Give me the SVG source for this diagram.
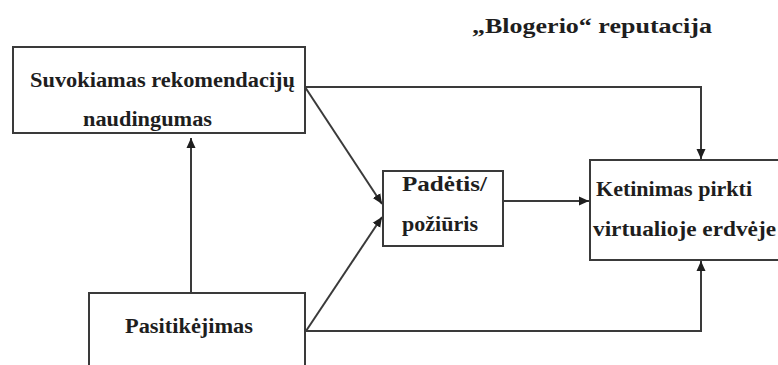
<svg xmlns="http://www.w3.org/2000/svg" width="778" height="365" viewBox="0 0 778 365">
  <style>
    .box { fill: #ffffff; stroke: #3a3a3a; stroke-width: 2; }
    .lbl { font-family: "Liberation Serif", "DejaVu Serif", serif; font-weight: bold; font-size: 20px; fill: #1e1e1e; }
    .edge { fill: none; stroke: #3a3a3a; stroke-width: 2; }
  </style>
  <defs>
    <marker id="arrow" viewBox="0 0 10 10" refX="10" refY="5" markerWidth="10" markerHeight="10" markerUnits="userSpaceOnUse" orient="auto">
      <path d="M0,0.5 L10,5 L0,9.5 z" fill="#1e1e1e"/>
    </marker>
  </defs>
  <rect width="778" height="365" fill="#ffffff"/>

  <text class="lbl" x="472" y="33" textLength="240" lengthAdjust="spacingAndGlyphs">„Blogerio“ reputacija</text>

  <g id="connectors">
    <!-- trust to perceived usefulness -->
    <path class="edge" d="M191,293 L191,138" marker-end="url(#arrow)"/>
    <!-- perceived usefulness to intention (top route) -->
    <path class="edge" d="M305,87 L701,87 L701,159" marker-end="url(#arrow)"/>
    <!-- perceived usefulness to attitude -->
    <path class="edge" d="M305,87 L382,204" marker-end="url(#arrow)"/>
    <!-- trust to attitude -->
    <path class="edge" d="M306,331 L382,217" marker-end="url(#arrow)"/>
    <!-- trust to intention (bottom route) -->
    <path class="edge" d="M306,331 L701,331 L701,261" marker-end="url(#arrow)"/>
    <!-- attitude to intention -->
    <path class="edge" d="M503,201 L589,201" marker-end="url(#arrow)"/>
  </g>

  <g id="usefulness">
    <rect class="box" x="13" y="47" width="292" height="86"/>
    <text class="lbl" x="30" y="87" textLength="265" lengthAdjust="spacingAndGlyphs">Suvokiamas rekomendacijų</text>
    <text class="lbl" x="83" y="126" textLength="129" lengthAdjust="spacingAndGlyphs">naudingumas</text>
  </g>

  <g id="trust">
    <rect class="box" x="89" y="293" width="216" height="80"/>
    <text class="lbl" x="125" y="333" textLength="128" lengthAdjust="spacingAndGlyphs">Pasitikėjimas</text>
  </g>

  <g id="attitude">
    <rect class="box" x="383" y="171" width="120" height="75"/>
    <text class="lbl" x="402" y="191" textLength="85" lengthAdjust="spacingAndGlyphs">Padėtis/</text>
    <text class="lbl" x="402" y="231" textLength="76" lengthAdjust="spacingAndGlyphs">požiūris</text>
  </g>

  <g id="intention">
    <rect class="box" x="590" y="160" width="200" height="100"/>
    <text class="lbl" x="596" y="196" textLength="156" lengthAdjust="spacingAndGlyphs">Ketinimas pirkti</text>
    <text class="lbl" x="593" y="236" textLength="183" lengthAdjust="spacingAndGlyphs">virtualioje erdvėje</text>
  </g>
</svg>
